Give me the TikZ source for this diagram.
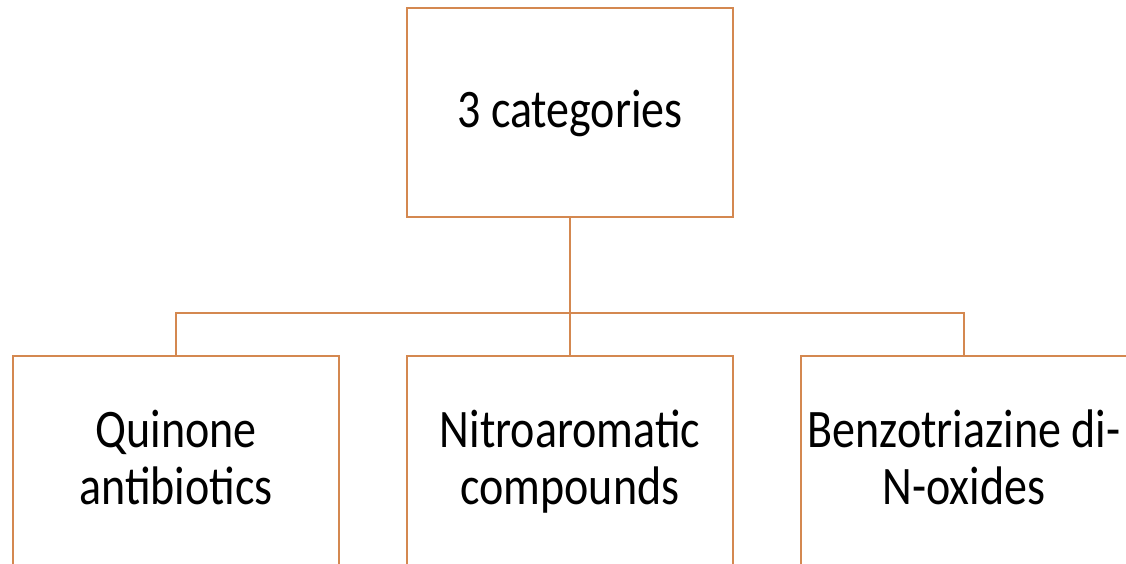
\documentclass[tikz,border=0pt]{standalone}
\usepackage{fontspec}
\usepackage{graphicx}
\setmainfont{Carlito}
\definecolor{boxline}{RGB}{212,136,80}
\newcommand{\boxtext}[1]{\raisebox{0pt}[\dimexpr\height+8pt\relax][\depth]{\scalebox{1}[1.18]{\begin{tabular}{@{}c@{}}#1\end{tabular}}}}
\begin{document}
\begin{tikzpicture}[x=1pt,y=-1pt,
  box/.style={draw=boxline,line width=2.4pt,fill=white,minimum width=326pt,minimum height=209pt,inner sep=0pt,align=center,
    font=\fontsize{46pt}{48.5pt}\selectfont},
  conn/.style={draw=boxline,line width=2.4pt}]
\useasboundingbox (0,0) rectangle (1126,564);
\node[box] (top) at (570,112.5) {\boxtext{3 categories}};
\node[box] (left) at (176,460.5) {\boxtext{Quinone\\antibiotics}};
\node[box] (mid) at (570,460.5) {\boxtext{Nitroaromatic\\compounds}};
\node[box] (right) at (964,460.5) {\boxtext{Benzotriazine di-\\N-oxides}};
\coordinate (bus) at (570,313);
\draw[conn] (top.south) -- (mid.north);
\draw[conn] (left.north) |- (bus) -| (right.north);
\end{tikzpicture}
\end{document}
